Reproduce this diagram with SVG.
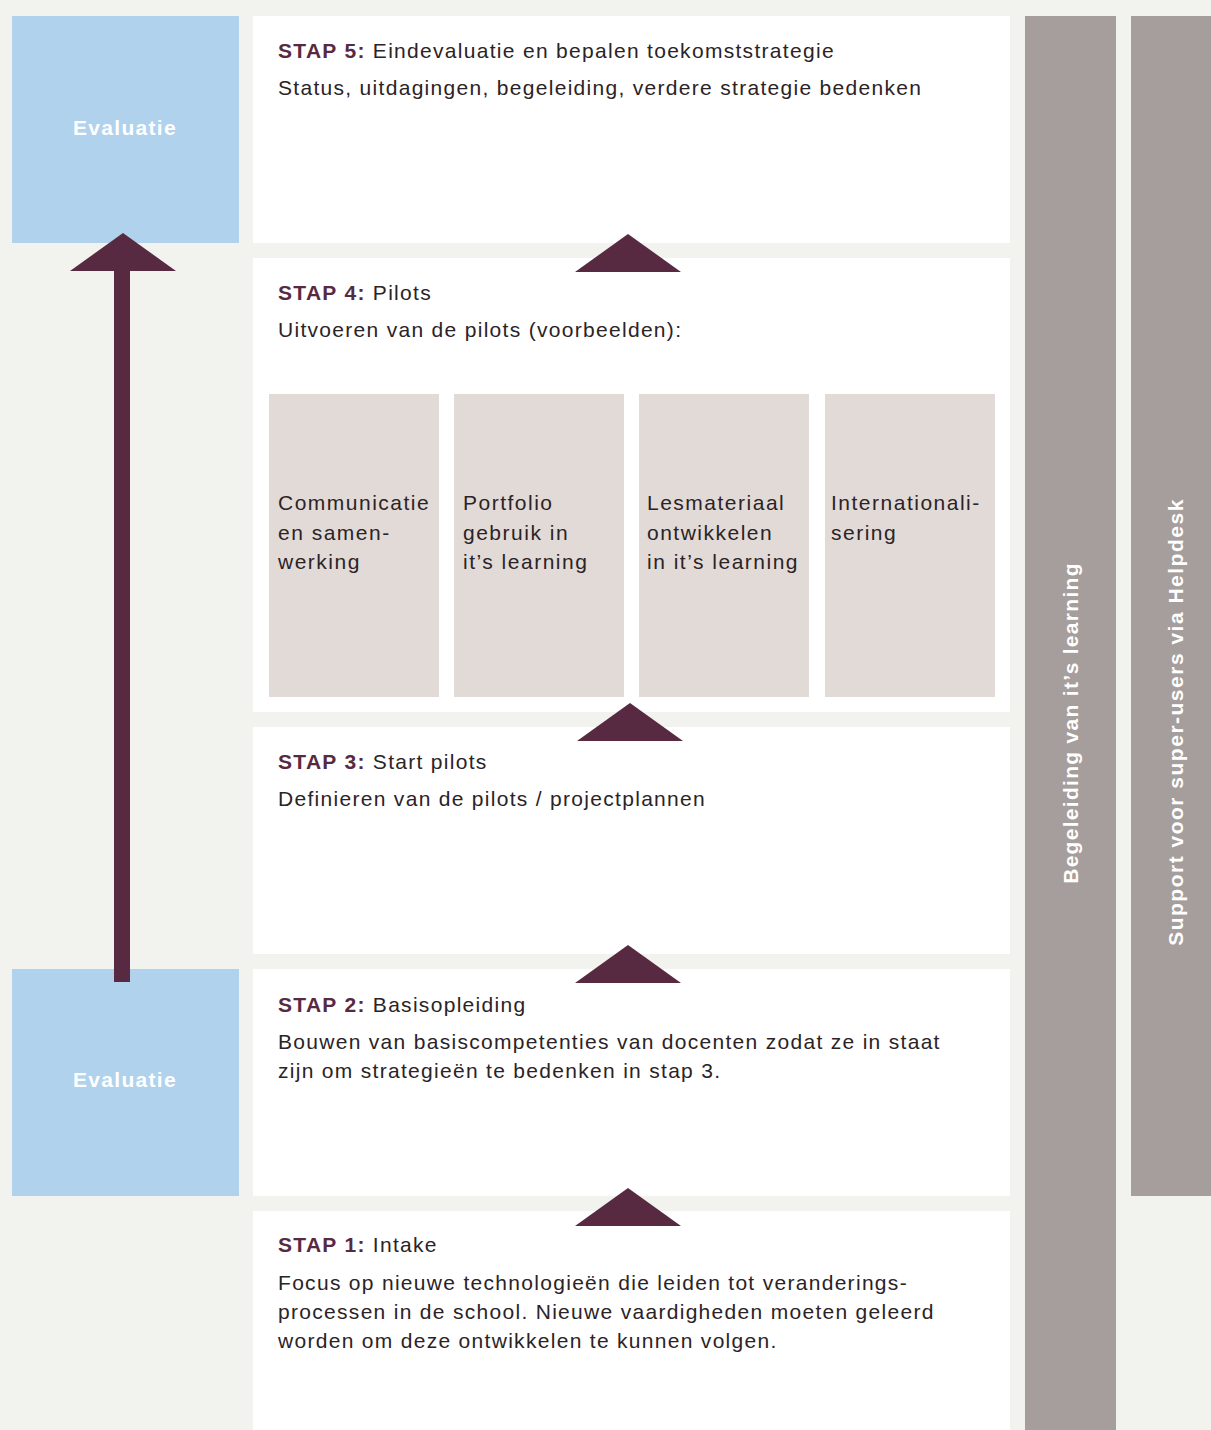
<svg xmlns="http://www.w3.org/2000/svg" width="1211" height="1430" viewBox="0 0 1211 1430">
<style>
.bg{fill:#F2F2EE}
.eval{fill:#B0D2EC}
.panel{fill:#FFFFFF}
.pilot{fill:#E2DAD7}
.bar{fill:#A69E9C}
.tri{fill:#582A42}
text{font-family:"Liberation Sans","DejaVu Sans",sans-serif;font-size:21px;fill:#2B2326;letter-spacing:1.3px}
.p{letter-spacing:1.5px}
.lbl{font-weight:bold;fill:#582A42}
.w{fill:#FFFFFF;font-weight:bold}
</style>
<rect class="bg" x="0" y="0" width="1211" height="1430"/>
<g id="eval-top"><rect class="eval" x="12" y="16" width="227" height="227"/><text class="w" x="125" y="135" text-anchor="middle">Evaluatie</text></g>
<g id="eval-bottom"><rect class="eval" x="12" y="969" width="227" height="227"/><text class="w" x="125" y="1087" text-anchor="middle">Evaluatie</text></g>
<g id="stap5"><rect class="panel" x="253" y="16" width="757" height="227"/>
<text x="278" y="58"><tspan class="lbl">STAP 5:</tspan> Eindevaluatie en bepalen toekomststrategie</text>
<text x="278" y="95">Status, uitdagingen, begeleiding, verdere strategie bedenken</text></g>
<g id="stap4"><rect class="panel" x="253" y="258" width="757" height="454"/>
<text x="278" y="300"><tspan class="lbl">STAP 4:</tspan> Pilots</text>
<text x="278" y="337">Uitvoeren van de pilots (voorbeelden):</text></g>
<g id="pilot1"><rect class="pilot" x="269" y="394" width="170" height="303"/><text class="p" x="278" y="510">Communicatie</text><text class="p" x="278" y="540">en samen-</text><text class="p" x="278" y="569">werking</text></g>
<g id="pilot2"><rect class="pilot" x="454" y="394" width="170" height="303"/><text class="p" x="463" y="510">Portfolio</text><text class="p" x="463" y="540">gebruik in</text><text class="p" x="463" y="569">it’s learning</text></g>
<g id="pilot3"><rect class="pilot" x="639" y="394" width="170" height="303"/><text class="p" x="647" y="510">Lesmateriaal</text><text class="p" x="647" y="540">ontwikkelen</text><text class="p" x="647" y="569">in it’s learning</text></g>
<g id="pilot4"><rect class="pilot" x="825" y="394" width="170" height="303"/><text class="p" x="831" y="510">Internationali-</text><text class="p" x="831" y="540">sering</text></g>
<g id="stap3"><rect class="panel" x="253" y="727" width="757" height="227"/>
<text x="278" y="769"><tspan class="lbl">STAP 3:</tspan> Start pilots</text>
<text x="278" y="806">Definieren van de pilots / projectplannen</text></g>
<g id="stap2"><rect class="panel" x="253" y="969" width="757" height="227"/>
<text x="278" y="1012"><tspan class="lbl">STAP 2:</tspan> Basisopleiding</text>
<text x="278" y="1049">Bouwen van basiscompetenties van docenten zodat ze in staat</text>
<text x="278" y="1078">zijn om strategieën te bedenken in stap 3.</text></g>
<g id="stap1"><rect class="panel" x="253" y="1211" width="757" height="219"/>
<text x="278" y="1252"><tspan class="lbl">STAP 1:</tspan> Intake</text>
<text x="278" y="1290">Focus op nieuwe technologieën die leiden tot veranderings-</text>
<text x="278" y="1319">processen in de school. Nieuwe vaardigheden moeten geleerd</text>
<text x="278" y="1348">worden om deze ontwikkelen te kunnen volgen.</text></g>
<g id="bar-begeleiding"><rect class="bar" x="1025" y="16" width="91" height="1414"/>
<text class="w" transform="translate(1078,723) rotate(-90)" text-anchor="middle">Begeleiding van it’s learning</text></g>
<g id="bar-support"><rect class="bar" x="1131" y="16" width="80" height="1180"/>
<text class="w p" transform="translate(1183,722) rotate(-90)" text-anchor="middle">Support voor super-users via Helpdesk</text></g>
<g id="connectors">
<polygon class="tri" points="628,234 681,272 575,272"/>
<polygon class="tri" points="630,703 683,741 577,741"/>
<polygon class="tri" points="628,945 681,983 575,983"/>
<polygon class="tri" points="628,1188 681,1226 575,1226"/>
<rect class="tri" x="114" y="268" width="16" height="714"/>
<polygon class="tri" points="123,233 176,271 70,271"/>
</g>
</svg>
